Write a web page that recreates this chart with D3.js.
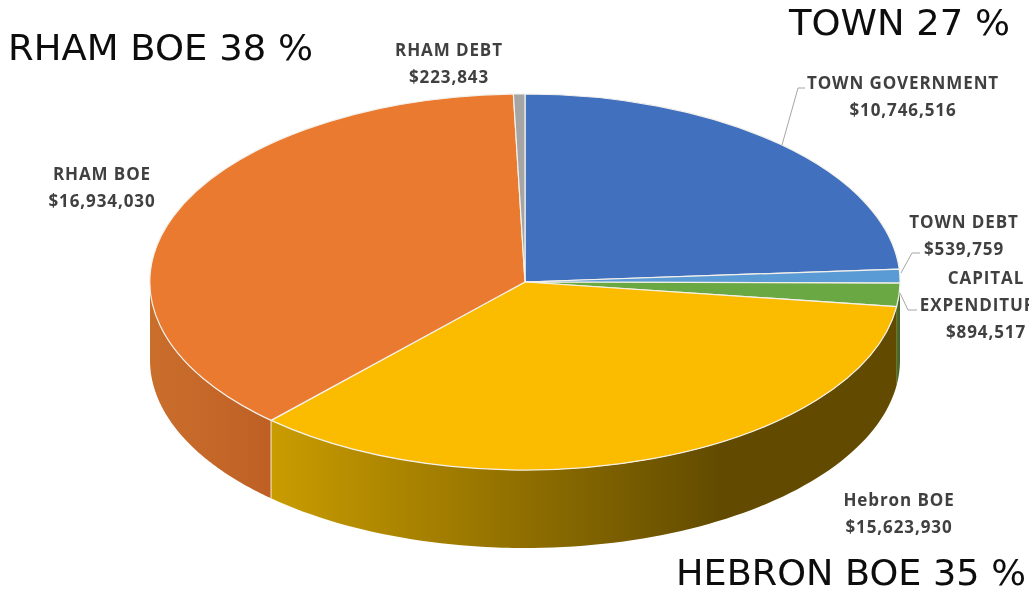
<!DOCTYPE html>
<html>
<head>
<meta charset="utf-8">
<script src="https://cdn.jsdelivr.net/npm/d3@7"></script>
<style>
  html, body { margin: 0; padding: 0; background: #fff; }
  svg { display: block; }
  .label { font-family: "Open Sans", Lato, sans-serif; font-weight: 700; font-size: 17px; letter-spacing: 0.9px; fill: #404040; text-anchor: middle; }
  .title { font-family: "DejaVu Sans", sans-serif; font-size: 35.5px; fill: #0a0a0a; }
  .leader { fill: none; stroke: #a6a6a6; stroke-width: 1; }
</style>
</head>
<body>
<div id="chart"></div>
<script>
const categories = ['TOWN GOVERNMENT', 'TOWN DEBT', 'CAPITAL EXPENDITURE', 'Hebron BOE', 'RHAM BOE', 'RHAM DEBT']
const values = [10746516, 539759, 894517, 15623930, 16934030, 223843]
const topColors = ['#4170bf', '#5b9bd5', '#6aa843', '#fbbc00', '#e97a30', '#a5a5a5']
const groupTitles = ['RHAM BOE 38 %', 'TOWN 27 %', 'HEBRON BOE 35 %']

const width = 1029, height = 589
const cx = 525, cy = 282, rx = 375, ry = 188, depth = 78

const svg = d3.select('#chart').append('svg')
  .attr('width', width)
  .attr('height', height)

const x = d3.scaleLinear().domain([-1, 1]).range([cx - rx, cx + rx])
const y = d3.scaleLinear().domain([-1, 1]).range([cy - ry, cy + ry])

const pie = d3.pie().sort(null).value(d => d)
const arcs = pie(values)

// side wall colours, left to right on screen for each slice
const wallStops = {
  2: [['0%', '#47702c'], ['100%', '#3f6427']],
  3: [['0%', '#c99c00'], ['72%', '#624b00'], ['100%', '#624b00']],
  4: [['0%', '#ca6e2c'], ['100%', '#be6025']]
}

const defs = svg.append('defs')
const wallLine = d3.line().x(d => d[0]).y(d => d[1])

// the reference is a slightly soft screenshot
defs.append('filter')
  .attr('id', 'soft')
  .append('feGaussianBlur')
  .attr('stdDeviation', 0.4)

function wallPath(a0, a1) {
  const n = 80
  const top = d3.range(n + 1).map(i => {
    const a = a0 + (a1 - a0) * i / n
    return [x(Math.sin(a)), y(-Math.cos(a))]
  })
  const bottom = top.slice().reverse().map(p => [p[0], p[1] + depth])
  return wallLine(top.concat(bottom)) + 'Z'
}

const walls = svg.append('g')
arcs.forEach((d, i) => {
  // only the front half of the rim is visible
  const a0 = Math.max(d.startAngle, Math.PI / 2)
  const a1 = Math.min(d.endAngle, Math.PI * 1.5)
  if (a1 <= a0 || !wallStops[i]) return

  const xs = [x(Math.sin(a0)), x(Math.sin(a1))]
  const grad = defs.append('linearGradient')
    .attr('id', 'wall' + i)
    .attr('gradientUnits', 'userSpaceOnUse')
    .attr('x1', d3.min(xs)).attr('x2', d3.max(xs))
    .attr('y1', 0).attr('y2', 0)
  wallStops[i].forEach(s => {
    grad.append('stop').attr('offset', s[0]).attr('stop-color', s[1])
  })

  walls.append('path')
    .attr('d', wallPath(a0, a1))
    .attr('fill', 'url(#wall' + i + ')')
})

// light seam between the orange and yellow walls
const seam = arcs[3].endAngle
svg.append('line')
  .attr('x1', x(Math.sin(seam))).attr('x2', x(Math.sin(seam)))
  .attr('y1', y(-Math.cos(seam))).attr('y2', y(-Math.cos(seam)) + depth)
  .attr('stroke', '#f2d9a8').attr('stroke-width', 1.2)

const arc = d3.arc().innerRadius(0).outerRadius(1)

svg.append('g')
  .attr('transform', 'translate(' + cx + ',' + cy + ') scale(' + rx + ',' + ry + ')')
  .selectAll('path')
  .data(arcs)
  .enter().append('path')
  .attr('d', arc)
  .attr('fill', (d, i) => topColors[i])
  .attr('stroke', '#f4f1ea')
  .attr('stroke-width', 1.2)
  .attr('stroke-linejoin', 'round')
  .attr('vector-effect', 'non-scaling-stroke')

// leader lines
const leaders = [
  [[782, 145], [798, 88], [805, 88]],
  [[901, 273], [912, 253], [920, 253]],
  [[900, 293], [908, 310], [917, 310]]
]
svg.selectAll('.leader')
  .data(leaders)
  .enter().append('path')
  .attr('class', 'leader')
  .attr('d', wallLine)

// data labels
const money = d3.format('$,')
const labelBoxes = [
  { x: 903, y: 83, lines: [categories[0], money(values[0])] },
  { x: 964, y: 222, lines: [categories[1], money(values[1])] },
  { x: 986, y: 278, lines: ['CAPITAL', 'EXPENDITURE', money(values[2])] },
  { x: 899, y: 500, lines: [categories[3], money(values[3])] },
  { x: 102, y: 174, lines: [categories[4], money(values[4])] },
  { x: 449, y: 50, lines: [categories[5], money(values[5])] }
]
labelBoxes.forEach(b => {
  const t = svg.append('text').attr('class', 'label').attr('y', b.y).attr('filter', 'url(#soft)')
  b.lines.forEach((line, k) => {
    t.append('tspan')
      // the reference runs this long word off the right edge
      .attr('x', line === 'EXPENDITURE' ? b.x - 3 : b.x)
      .attr('y', b.y + k * 27)
      .attr('dy', '0.35em')
      .text(line)
  })
})

// group headings, stretched to the reference's wider letterforms
const titlePos = [[8, 60, 305], [789, 35, 221], [676, 585, 350]]
svg.selectAll('.title')
  .data(groupTitles)
  .enter().append('text')
  .attr('class', 'title')
  .attr('filter', 'url(#soft)')
  .attr('x', (d, i) => titlePos[i][0])
  .attr('y', (d, i) => titlePos[i][1])
  .attr('textLength', (d, i) => titlePos[i][2])
  .attr('lengthAdjust', 'spacingAndGlyphs')
  .text(d => d)
</script>
</body>
</html>
